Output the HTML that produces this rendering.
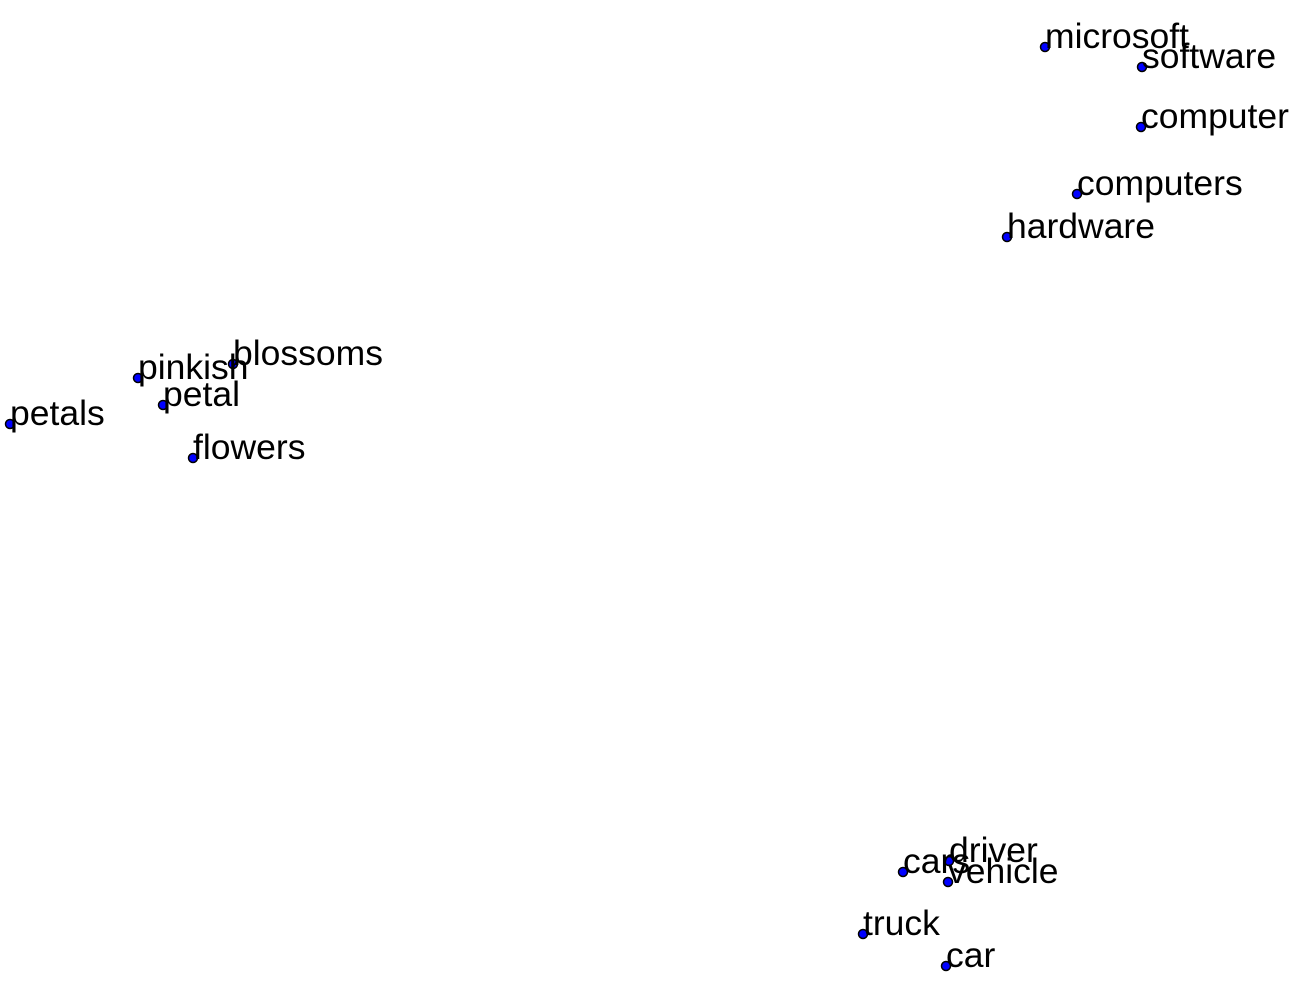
<!DOCTYPE html>
<html><head><style>html,body{margin:0;padding:0;background:#fff;}</style></head>
<body>
<svg width="1306" height="996" xmlns="http://www.w3.org/2000/svg" font-family="Liberation Sans, sans-serif" font-size="35.5">
<g fill="#0000ff" stroke="#000" stroke-width="1.5">
<circle cx="1045" cy="47" r="4.5"/><circle cx="1142" cy="67" r="4.5"/><circle cx="1141" cy="127" r="4.5"/>
<circle cx="1077" cy="194" r="4.5"/><circle cx="1007" cy="237" r="4.5"/>
<circle cx="233" cy="364" r="4.5"/><circle cx="138" cy="378" r="4.5"/><circle cx="163" cy="405" r="4.5"/>
<circle cx="10" cy="424" r="4.5"/><circle cx="193" cy="458" r="4.5"/>
<circle cx="903" cy="872" r="4.5"/><circle cx="949" cy="861" r="4.5"/><circle cx="948" cy="882" r="4.5"/>
<circle cx="863" cy="934" r="4.5"/><circle cx="946" cy="966" r="4.5"/>
</g>
<g fill="#000">
<text x="1045" y="48">microsoft</text><text x="1142" y="68">software</text><text x="1141" y="128">computer</text>
<text x="1077" y="195">computers</text><text x="1007" y="238">hardware</text>
<text x="233" y="365">blossoms</text><text x="138" y="379">pinkish</text><text x="163" y="406">petal</text>
<text x="10" y="425">petals</text><text x="193" y="459">flowers</text>
<text x="903" y="873">cars</text><text x="949" y="862">driver</text><text x="948" y="883">vehicle</text>
<text x="863" y="935">truck</text><text x="946" y="967">car</text>
</g>
</svg>
</body></html>
